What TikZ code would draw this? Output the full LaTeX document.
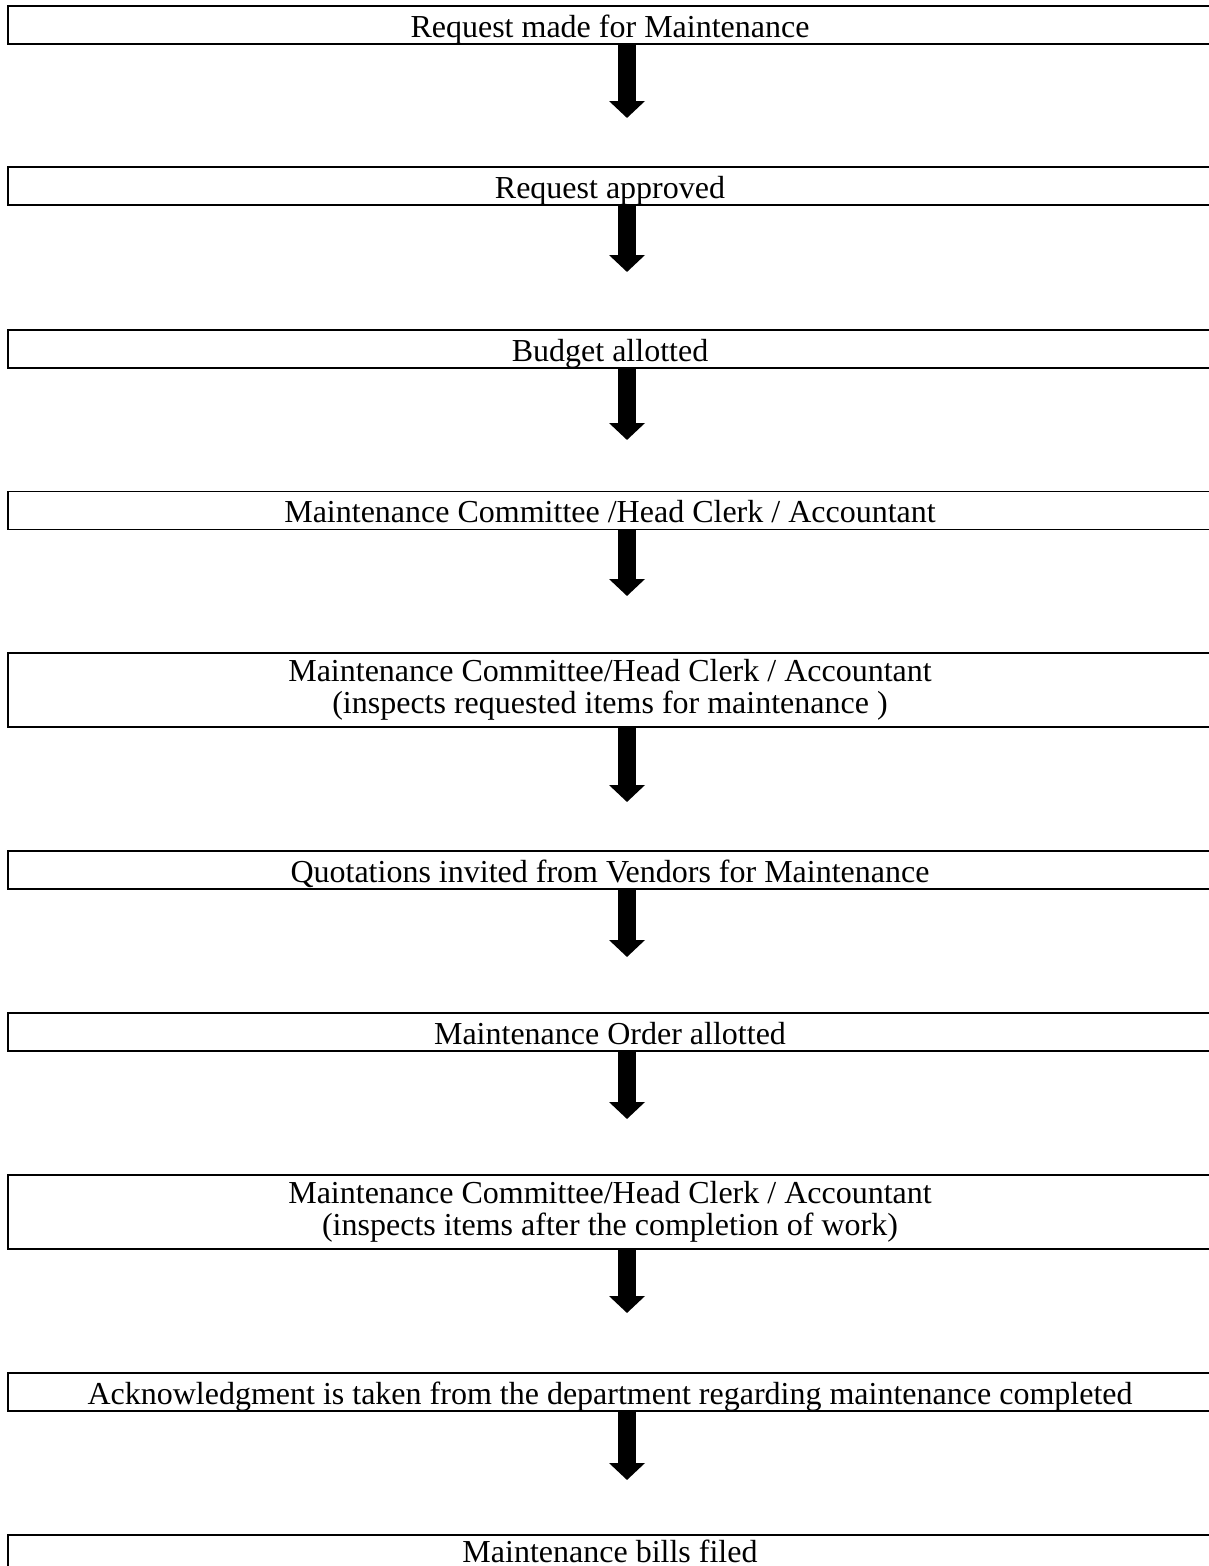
\documentclass[tikz,border=0pt]{standalone}
\usepackage{fontspec}
\setmainfont{Liberation Serif}
\usetikzlibrary{arrows.meta}
\begin{document}
\begin{tikzpicture}[x=1pt,y=-1pt,
  boxline/.style={draw=black,line width=1.7pt},
  boxtext/.style={inner sep=0pt,align=center,font=\fontsize{32}{32}\selectfont},
  stepbox/.style={boxline,boxtext,minimum width=1204pt},
  onebox/.style={stepbox,minimum height=38pt,text height=30pt,text depth=6pt},
  twobox/.style={stepbox,minimum height=74pt},
  bigarrow/.style={line width=18pt,-{Triangle[width=35pt,length=17pt]}}]
\useasboundingbox (0,0) rectangle (1209,1566);
\clip (0,0) rectangle (1209,1566);
\node[onebox] (b1) at (610,25) {Request made for Maintenance};
\node[onebox] (b2) at (610,186) {Request approved};
\node[onebox] (b3) at (610,349) {Budget allotted};
\node[onebox] (b4) at (610,510.5) {Maintenance Committee /Head Clerk / Accountant};
\node[twobox] (b5) at (610,690) {Maintenance Committee/Head Clerk / Accountant\\(inspects requested items for maintenance )};
\node[onebox] (b6) at (610,870) {Quotations invited from Vendors for Maintenance};
\node[onebox] (b7) at (610,1032) {Maintenance Order allotted};
\node[twobox] (b8) at (610,1212) {Maintenance Committee/Head Clerk / Accountant\\(inspects items after the completion of work)};
\node[onebox] (b9) at (610,1392) {Acknowledgment is taken from the department regarding maintenance completed};
\node[boxtext,anchor=base,text depth=0pt] (b10) at (610,1562) {Maintenance bills filed};
\draw[boxline] (8,1580) |- (1220,1535);
\coordinate (e1) at (627,118);
\coordinate (e2) at (627,272);
\coordinate (e3) at (627,440);
\coordinate (e4) at (627,596);
\coordinate (e5) at (627,802);
\coordinate (e6) at (627,957);
\coordinate (e7) at (627,1119);
\coordinate (e8) at (627,1313);
\coordinate (e9) at (627,1480);
\draw[bigarrow] (b1.south -| e1) -- (e1);
\draw[bigarrow] (b2.south -| e2) -- (e2);
\draw[bigarrow] (b3.south -| e3) -- (e3);
\draw[bigarrow] (b4.south -| e4) -- (e4);
\draw[bigarrow] (b5.south -| e5) -- (e5);
\draw[bigarrow] (b6.south -| e6) -- (e6);
\draw[bigarrow] (b7.south -| e7) -- (e7);
\draw[bigarrow] (b8.south -| e8) -- (e8);
\draw[bigarrow] (b9.south -| e9) -- (e9);
\end{tikzpicture}
\end{document}
